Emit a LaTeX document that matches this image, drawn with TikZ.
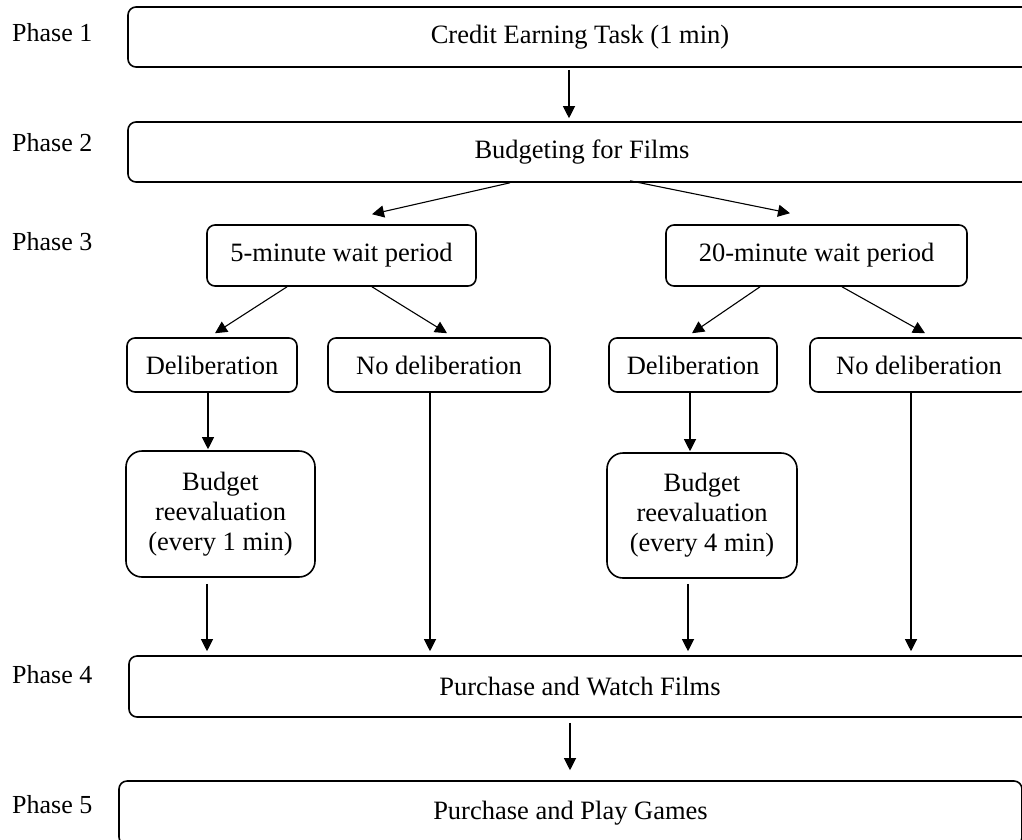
\documentclass[tikz,border=0pt]{standalone}
\usepackage{fontspec}
\setmainfont{Liberation Serif}
\usetikzlibrary{arrows.meta}
\begin{document}
\begin{tikzpicture}[x=1pt,y=-1pt,
  box/.style={draw, line width=1.6pt, rounded corners=8pt, inner sep=0pt, align=center,
    font=\fontsize{26.5}{30}\selectfont},
  bigbox/.style={box, rounded corners=16pt},
  lbl/.style={anchor=base west, inner sep=0pt, font=\fontsize{26}{30}\selectfont},
  arr/.style={-{Triangle[length=12pt,width=12pt]}, line width=1.1pt}]
\useasboundingbox (0,0) rectangle (1022,839);
\clip (0,0) rectangle (1022,839);
% phase labels
\node[lbl] (l1) at (12,41) {Phase 1};
\node[lbl] (l2) at (12,151) {Phase 2};
\node[lbl] (l3) at (12,250) {Phase 3};
\node[lbl] (l4) at (12,683) {Phase 4};
\node[lbl] (l5) at (12,813) {Phase 5};
% phase boxes
\node[box, minimum width=904pt, minimum height=60pt] (p1) at (580,37) {Credit Earning Task (1 min)};
\node[box, minimum width=908pt, minimum height=60pt] (p2) at (582,152) {Budgeting for Films};
\node[box, minimum width=902pt, minimum height=61pt] (p4) at (580,686.5) {Purchase and Watch Films};
\node[box, minimum width=903pt, minimum height=64pt] (p5) at (570.5,813) {Purchase and Play Games};
% phase 3
\node[box, minimum width=269pt, minimum height=61pt] (w5) at (341.5,255.5) {5-minute wait period};
\node[box, minimum width=301pt, minimum height=61pt] (w20) at (816.5,255.5) {20-minute wait period};
\node[box, minimum width=170pt, minimum height=54pt] (dL) at (212,365) {Deliberation};
\node[box, minimum width=222pt, minimum height=54pt] (nL) at (439,365) {No deliberation};
\node[box, minimum width=168pt, minimum height=54pt] (dR) at (693,365) {Deliberation};
\node[box, minimum width=218pt, minimum height=54pt] (nR) at (919,365) {No deliberation};
\node[bigbox, minimum width=189pt, minimum height=126pt] (bL) at (220.5,514) {Budget\\reevaluation\\(every 1 min)};
\node[bigbox, minimum width=190pt, minimum height=125pt] (bR) at (702,515.5) {Budget\\reevaluation\\(every 4 min)};
% column coordinates
\coordinate (xa) at (569,0);
\coordinate (xb) at (208,0);
\coordinate (xc) at (207,0);
\coordinate (xd) at (430,0);
\coordinate (xe) at (690,0);
\coordinate (xf) at (688,0);
\coordinate (xg) at (911,0);
\coordinate (xh) at (570,0);
% connectors
\draw[arr, shorten <=2pt, shorten >=3pt] (p1.south -| xa) -- (p2.north -| xa);
\draw[arr] ([xshift=-72pt]p2.south) -- ([xshift=30.5pt,yshift=10pt]w5.north);
\draw[arr] ([xshift=48pt,yshift=2pt]p2.south) -- ([xshift=-26.5pt,yshift=11pt]w20.north);
\draw[arr] ([xshift=-54.5pt]w5.south) -- ([xshift=3pt,yshift=4pt]dL.north);
\draw[arr] ([xshift=30.5pt]w5.south) -- ([xshift=8pt,yshift=4pt]nL.north);
\draw[arr] ([xshift=-56.5pt]w20.south) -- ([xshift=-1pt,yshift=4pt]dR.north);
\draw[arr] ([xshift=25.5pt]w20.south) -- ([xshift=6pt,yshift=4pt]nR.north);
\draw[arr, shorten >=1pt] (dL.south -| xb) -- (bL.north -| xb);
\draw[arr, shorten <=6pt, shorten >=4pt] (bL.south -| xc) -- (p4.north -| xc);
\draw[arr, shorten >=4pt] (nL.south -| xd) -- (p4.north -| xd);
\draw[arr, shorten >=1pt] (dR.south -| xe) -- (bR.north -| xe);
\draw[arr, shorten <=5pt, shorten >=4pt] (bR.south -| xf) -- (p4.north -| xf);
\draw[arr, shorten >=4pt] (nR.south -| xg) -- (p4.north -| xg);
\draw[arr, shorten <=5pt, shorten >=10pt] (p4.south -| xh) -- (p5.north -| xh);
\end{tikzpicture}
\end{document}
